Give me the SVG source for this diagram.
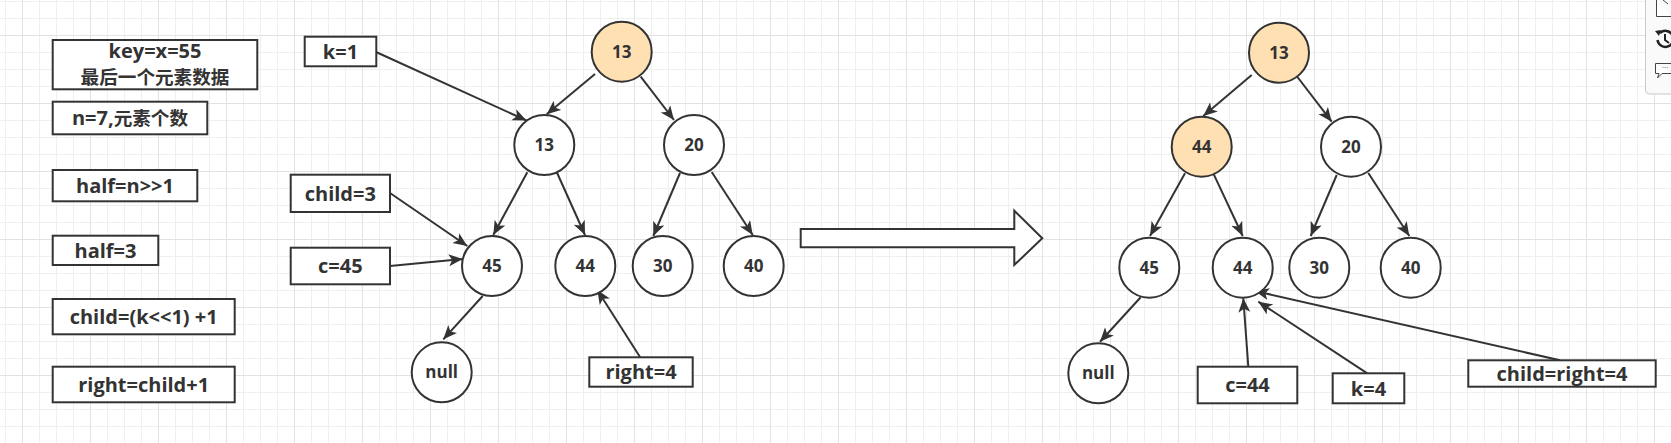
<svg xmlns="http://www.w3.org/2000/svg" width="1671" height="443" viewBox="0 0 1671 443">
<style>
.box{fill:#fff;stroke:#333;stroke-width:2}
.node{fill:#fff;stroke:#333;stroke-width:2}
.hl{fill:#ffe0b2}
.lbl{font-family:"Open Sans","Noto Sans CJK SC",sans-serif;font-weight:700;font-size:20px;fill:#333;text-anchor:middle}
.cjk{font-family:"Noto Sans CJK SC",sans-serif;font-size:18.6px}
.num{font-family:"Open Sans",sans-serif;font-weight:700;font-size:17px;fill:#333;text-anchor:middle}
.edge{stroke:#333;stroke-width:2;fill:none;marker-end:url(#ah)}
</style>
<defs>
<pattern id="grid" patternUnits="userSpaceOnUse" x="22" y="35" width="68" height="68">
<path d="M17.5 0V68M34.5 0V68M51.5 0V68M0 17.5H68M0 34.5H68M0 51.5H68" stroke="#efefef" stroke-width="1" fill="none"/>
<path d="M0.5 0V68M0 0.5H68" stroke="#e2e2e2" stroke-width="1" fill="none"/>
</pattern>
<marker id="ah" markerUnits="userSpaceOnUse" markerWidth="16" markerHeight="14" refX="14" refY="6" orient="auto">
<path d="M0,0 L14,6 L0,12 L3.5,6 Z" fill="#333"/>
</marker>
</defs>
<rect width="1671" height="443" fill="#fff"/>
<rect width="1671" height="443" fill="url(#grid)"/>

<g id="connectors">
<line class="edge" x1="376" y1="52" x2="526.5" y2="120.5"/>
<line class="edge" x1="595" y1="74" x2="546.7" y2="114.3"/>
<line class="edge" x1="640.7" y1="76.7" x2="674" y2="120"/>
<line class="edge" x1="527.3" y1="172.3" x2="493.3" y2="235"/>
<line class="edge" x1="556.7" y1="172" x2="585" y2="235"/>
<line class="edge" x1="680" y1="173" x2="653.3" y2="236"/>
<line class="edge" x1="711.7" y1="172" x2="752.7" y2="235"/>
<line class="edge" x1="390" y1="193" x2="467.3" y2="246"/>
<line class="edge" x1="390" y1="266" x2="462.7" y2="259"/>
<line class="edge" x1="482.7" y1="296" x2="443.3" y2="339.3"/>
<line class="edge" x1="640" y1="357" x2="597.3" y2="290"/>
<line class="edge" x1="1251.7" y1="75" x2="1203.3" y2="116"/>
<line class="edge" x1="1296.7" y1="76" x2="1331.7" y2="121.7"/>
<line class="edge" x1="1185" y1="173.3" x2="1150" y2="236"/>
<line class="edge" x1="1213.3" y1="173.3" x2="1242.7" y2="236"/>
<line class="edge" x1="1336.7" y1="175" x2="1310.7" y2="236"/>
<line class="edge" x1="1368.3" y1="173" x2="1409.3" y2="236"/>
<line class="edge" x1="1140.7" y1="297.3" x2="1100" y2="341.7"/>
<line class="edge" x1="1248.3" y1="366.7" x2="1243.3" y2="298.3"/>
<line class="edge" x1="1367.3" y1="373.3" x2="1258.3" y2="301.7"/>
<line class="edge" x1="1560" y1="360.3" x2="1255" y2="291"/>
</g>

<g id="box-key"><rect class="box" x="52.7" y="40" width="204.6" height="49.3"/>
<text class="lbl" x="155" y="58">key=x=55</text>
<text class="lbl cjk" x="155" y="84">最后一个元素数据</text></g>
<g id="box-n"><rect class="box" x="52.7" y="101.7" width="154.6" height="32.6"/>
<text class="lbl" x="130" y="125">n=7,<tspan class="cjk">元素个数</tspan></text></g>
<g id="box-half1"><rect class="box" x="52.7" y="170" width="144.6" height="31.3"/>
<text class="lbl" x="125" y="192.5">half=n&gt;&gt;1</text></g>
<g id="box-half2"><rect class="box" x="52.7" y="235.7" width="105.6" height="29.3"/>
<text class="lbl" x="105.5" y="257.5">half=3</text></g>
<g id="box-childf"><rect class="box" x="52.7" y="299" width="182" height="35.3"/>
<text class="lbl" x="143.7" y="324">child=(k&lt;&lt;1) +1</text></g>
<g id="box-right"><rect class="box" x="52.7" y="366.7" width="182" height="35.6"/>
<text class="lbl" x="143.7" y="391.5">right=child+1</text></g>
<g id="box-k1"><rect class="box" x="304.7" y="36.7" width="71.6" height="29.6"/>
<text class="lbl" x="340.5" y="58.8">k=1</text></g>
<g id="box-child3"><rect class="box" x="290.7" y="174.7" width="99.3" height="37.3"/>
<text class="lbl" x="340.3" y="200.5">child=3</text></g>
<g id="box-c45"><rect class="box" x="290.7" y="247.7" width="99.3" height="36.6"/>
<text class="lbl" x="340.3" y="273">c=45</text></g>
<g id="box-right4"><rect class="box" x="589.3" y="357.3" width="103.4" height="29.4"/>
<text class="lbl" x="641" y="379">right=4</text></g>

<g id="L-root"><circle class="node hl" cx="621.7" cy="51.7" r="30"/><text class="num" x="621.7" y="57.7">13</text></g>
<g id="L-13"><circle class="node" cx="544.3" cy="145" r="30"/><text class="num" x="544.3" y="151">13</text></g>
<g id="L-20"><circle class="node" cx="694" cy="145" r="30"/><text class="num" x="694" y="151">20</text></g>
<g id="L-45"><circle class="node" cx="492" cy="266" r="30"/><text class="num" x="492" y="272">45</text></g>
<g id="L-44"><circle class="node" cx="585.3" cy="266" r="30"/><text class="num" x="585.3" y="272">44</text></g>
<g id="L-30"><circle class="node" cx="662.7" cy="266" r="30"/><text class="num" x="662.7" y="272">30</text></g>
<g id="L-40"><circle class="node" cx="753.7" cy="266" r="30"/><text class="num" x="753.7" y="272">40</text></g>
<g id="L-null"><circle class="node" cx="441.7" cy="372.3" r="30"/><text class="num" x="441.7" y="378.3">null</text></g>

<g id="big-arrow"><path class="box" d="M800.7,229 H1014.3 V210.7 L1042.3,238.3 L1014.3,265 V247.3 H800.7 Z" stroke-linejoin="miter"/></g>

<g id="R-root"><circle class="node hl" cx="1279" cy="52.7" r="30"/><text class="num" x="1279" y="58.7">13</text></g>
<g id="R-44a"><circle class="node hl" cx="1201.7" cy="146.7" r="30"/><text class="num" x="1201.7" y="152.7">44</text></g>
<g id="R-20"><circle class="node" cx="1351" cy="146.7" r="30"/><text class="num" x="1351" y="152.7">20</text></g>
<g id="R-45"><circle class="node" cx="1149.3" cy="267.7" r="30"/><text class="num" x="1149.3" y="273.7">45</text></g>
<g id="R-44b"><circle class="node" cx="1242.7" cy="267.7" r="30"/><text class="num" x="1242.7" y="273.7">44</text></g>
<g id="R-30"><circle class="node" cx="1319.3" cy="267.7" r="30"/><text class="num" x="1319.3" y="273.7">30</text></g>
<g id="R-40"><circle class="node" cx="1410.7" cy="267.7" r="30"/><text class="num" x="1410.7" y="273.7">40</text></g>
<g id="R-null"><circle class="node" cx="1098.3" cy="373.3" r="30"/><text class="num" x="1098.3" y="379.3">null</text></g>

<g id="box-c44"><rect class="box" x="1197.7" y="366.7" width="99.6" height="36.6"/>
<text class="lbl" x="1247.5" y="392">c=44</text></g>
<g id="box-k4"><rect class="box" x="1332.7" y="373.3" width="71.6" height="30"/>
<text class="lbl" x="1368.5" y="395.5">k=4</text></g>
<g id="box-childright4"><rect class="box" x="1468.3" y="360.3" width="187.4" height="26.4"/>
<text class="lbl" x="1562" y="380.5">child=right=4</text></g>

<g id="panel">
<rect x="1645.5" y="-6" width="40" height="100" rx="4" fill="#fafafa" stroke="#c8c8c8" stroke-width="1"/>
<path d="M1656.5,0 V16.5 H1671" fill="#fff" stroke="#444" stroke-width="1"/>
<path d="M1663,0 L1668,4" fill="none" stroke="#444" stroke-width="1"/>
<path d="M1660,33 A8,8 0 1 1 1657.5,40" fill="none" stroke="#222" stroke-width="2.5"/>
<path d="M1655,31 L1661,30 L1659,36 Z" fill="#222"/>
<path d="M1665,34 V40 L1669,43" fill="none" stroke="#222" stroke-width="2"/>
<path d="M1655.5,63.5 H1671 M1655.5,63.5 V73.5 H1659 L1657.5,78 L1662,73.5 H1671" fill="#fff" stroke="#444" stroke-width="1"/>
<text x="1665" y="70" font-family="DejaVu Sans,sans-serif" font-size="7" fill="#444" text-anchor="middle">···</text>
</g>
</svg>
